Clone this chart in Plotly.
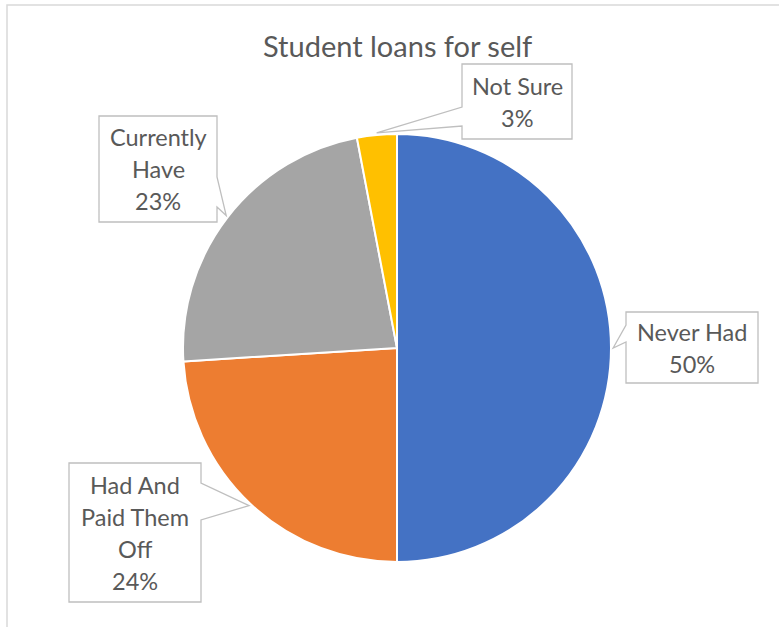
import math
import plotly.graph_objects as go

# Survey answers, clockwise from 12 o'clock
labels = ["Never Had", "Had And Paid Them Off", "Currently Have", "Not Sure"]
values = [50, 24, 23, 3]
colors = ["#4472C4", "#ED7D31", "#A5A5A5", "#FFC000"]
title_text = "Student loans for self"

W, H = 779, 627
CX, CY, R = 397, 348, 214          # pie centre / radius in pixels
TEXT = "#595959"
FONT = "Lato, 'Open Sans', sans-serif"

# Callout boxes (pixel coords): box, wedge base on box edge, wrapped lines
callouts = {
    "Never Had": dict(box=(626, 312, 758, 383), base=((626, 325), (626, 342)),
                      lines=["Never Had"]),
    "Had And Paid Them Off": dict(box=(69, 463, 201, 602), base=((201, 483), (201, 520)),
                                  lines=["Had And", "Paid Them", "Off"]),
    "Currently Have": dict(box=(99, 116, 217, 222), base=((217, 177), (217, 207)),
                           lines=["Currently", "Have"]),
    "Not Sure": dict(box=(462, 64, 572, 139), base=((462, 107), (462, 126)),
                     lines=["Not Sure"]),
}
LINE_GAP = 32


def px(x):
    return x / W


def py(y):
    return 1 - y / H


fig = go.Figure(go.Pie(
    labels=labels, values=values, sort=False, direction="clockwise", rotation=0,
    marker=dict(colors=colors, line=dict(color="white", width=2)),
    textinfo="none", hoverinfo="label+percent", showlegend=False,
    domain=dict(x=[px(CX - R), px(CX + R)], y=[py(CY + R), py(CY - R)]),
))

shapes = [
    # chart-area frame (left and top edges fall inside the page)
    dict(type="path", xref="paper", yref="paper",
         path=f"M {px(7)},{py(H + 5)} L {px(7)},{py(5)} L {px(W + 5)},{py(5)}",
         line=dict(color="#D9D9D9", width=1.5)),
]
annotations = [
    dict(text=title_text, x=px(CX), y=py(46), xref="paper", yref="paper",
         xanchor="center", yanchor="middle", showarrow=False,
         font=dict(family=FONT, size=29, color=TEXT)),
]

total = sum(values)
cum = 0
for lab, val in zip(labels, values):
    mid = (cum + val / 2) / total
    cum += val
    ang = mid * 2 * math.pi
    tip = (CX + R * 1.01 * math.sin(ang), CY - R * 1.01 * math.cos(ang))
    c = callouts[lab]
    x0, y0, x1, y1 = c["box"]
    (bx1, by1), (bx2, by2) = c["base"]
    # walk the box outline clockwise, inserting the wedge where it sits
    if bx1 == x1:  # wedge on right edge
        pts = [(x0, y0), (x1, y0), (bx1, by1), tip, (bx2, by2), (x1, y1), (x0, y1)]
    else:          # wedge on left edge
        pts = [(x0, y0), (x1, y0), (x1, y1), (x0, y1), (bx2, by2), tip, (bx1, by1)]
    path = "M " + " L ".join(f"{px(a)},{py(b)}" for a, b in pts) + " Z"
    shapes.append(dict(type="path", xref="paper", yref="paper", path=path,
                       fillcolor="white", line=dict(color="#BFBFBF", width=1.3),
                       layer="above"))
    lines = c["lines"] + [f"{round(100 * val / total)}%"]
    ymid = (y0 + y1) / 2
    start = ymid - LINE_GAP * (len(lines) - 1) / 2
    for i, t in enumerate(lines):
        annotations.append(dict(
            text=t, x=px((x0 + x1) / 2), y=py(start + i * LINE_GAP),
            xref="paper", yref="paper", xanchor="center", yanchor="middle",
            showarrow=False, font=dict(family=FONT, size=23.5, color=TEXT)))

fig.update_layout(
    width=W, height=H, margin=dict(l=0, r=0, t=0, b=0),
    paper_bgcolor="white", plot_bgcolor="white",
    shapes=shapes, annotations=annotations,
)

fig.write_html("out.html")
